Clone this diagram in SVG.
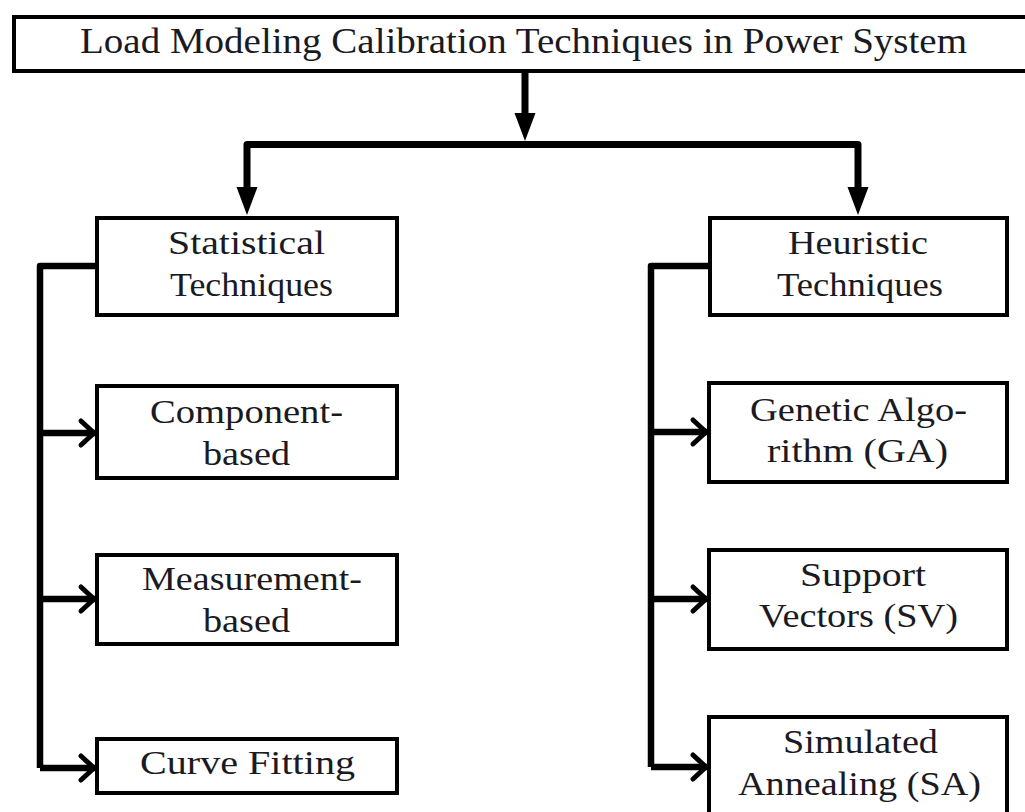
<svg xmlns="http://www.w3.org/2000/svg" width="1025" height="812" viewBox="0 0 1025 812">
<style>
.box{fill:#fff;stroke:#000;stroke-width:4}
.t{font-family:"Liberation Serif","Times New Roman",serif;font-size:34px;fill:#1a1a22}
.title{font-size:35px}
.wire{fill:none;stroke:#000;stroke-width:7;stroke-linejoin:round}
.branch{fill:none;stroke:#000;stroke-width:6.5;stroke-linejoin:round}
</style>
<defs>
<marker id="tri" markerUnits="userSpaceOnUse" viewBox="0 -11 28 22" refX="0" refY="0" markerWidth="28" markerHeight="22" orient="auto-start-reverse">
<path d="M0 -10.5 L28 0 L0 10.5 Z" fill="#000"/>
</marker>
<marker id="chev" markerUnits="userSpaceOnUse" viewBox="-18 -15 20 30" refX="0" refY="0" markerWidth="20" markerHeight="30" orient="auto" overflow="visible">
<path d="M-14 -12 L-1 0 L-14 12" fill="none" stroke="#000" stroke-width="5" stroke-linecap="round" stroke-linejoin="round"/>
</marker>
</defs>
<g id="connectors">
<path class="wire" d="M525 73 V113" marker-end="url(#tri)"/>
<path class="wire" d="M247 187 V144.5 H858 V187" marker-start="url(#tri)" marker-end="url(#tri)"/>
<path class="branch" d="M97 266 H40 V768"/>
<path class="branch" d="M40 433 H95" marker-end="url(#chev)"/>
<path class="branch" d="M40 599 H95" marker-end="url(#chev)"/>
<path class="branch" d="M40 768 H95" marker-end="url(#chev)"/>
<path class="branch" d="M709 266 H651 V767"/>
<path class="branch" d="M651 432 H707" marker-end="url(#chev)"/>
<path class="branch" d="M651 599 H707" marker-end="url(#chev)"/>
<path class="branch" d="M651 767 H707" marker-end="url(#chev)"/>
</g>
<g id="root">
<rect class="box" x="14" y="17" width="1030" height="54"/>
<text class="t title" x="80" y="53" textLength="887" lengthAdjust="spacingAndGlyphs">Load Modeling Calibration Techniques in Power System</text>
</g>
<g id="statistical">
<rect class="box" x="97" y="218" width="300" height="97"/>
<text class="t" x="168" y="254" textLength="157" lengthAdjust="spacingAndGlyphs">Statistical</text>
<text class="t" x="170" y="296" textLength="163" lengthAdjust="spacingAndGlyphs">Techniques</text>
</g>
<g id="heuristic">
<rect class="box" x="710" y="218" width="297" height="97"/>
<text class="t" x="788" y="254" textLength="140" lengthAdjust="spacingAndGlyphs">Heuristic</text>
<text class="t" x="777" y="296" textLength="166" lengthAdjust="spacingAndGlyphs">Techniques</text>
</g>
<g id="component">
<rect class="box" x="97" y="386" width="300" height="92"/>
<text class="t" x="150" y="423" textLength="193" lengthAdjust="spacingAndGlyphs">Component-</text>
<text class="t" x="203" y="465" textLength="87" lengthAdjust="spacingAndGlyphs">based</text>
</g>
<g id="measurement">
<rect class="box" x="97" y="555" width="300" height="89"/>
<text class="t" x="142" y="590" textLength="220" lengthAdjust="spacingAndGlyphs">Measurement-</text>
<text class="t" x="203" y="632" textLength="87" lengthAdjust="spacingAndGlyphs">based</text>
</g>
<g id="curve">
<rect class="box" x="97" y="739" width="300" height="54"/>
<text class="t" x="140" y="774" textLength="215" lengthAdjust="spacingAndGlyphs">Curve Fitting</text>
</g>
<g id="genetic">
<rect class="box" x="709" y="383" width="298" height="99"/>
<text class="t" x="750" y="421" textLength="217" lengthAdjust="spacingAndGlyphs">Genetic Algo-</text>
<text class="t" x="767" y="462" textLength="181" lengthAdjust="spacingAndGlyphs">rithm (GA)</text>
</g>
<g id="support">
<rect class="box" x="709" y="550" width="298" height="99"/>
<text class="t" x="800" y="586" textLength="126" lengthAdjust="spacingAndGlyphs">Support</text>
<text class="t" x="759" y="627" textLength="199" lengthAdjust="spacingAndGlyphs">Vectors (SV)</text>
</g>
<g id="simulated">
<rect class="box" x="709" y="717" width="298" height="110"/>
<text class="t" x="783" y="753" textLength="155" lengthAdjust="spacingAndGlyphs">Simulated</text>
<text class="t" x="738" y="795" textLength="243" lengthAdjust="spacingAndGlyphs">Annealing (SA)</text>
</g>
</svg>
